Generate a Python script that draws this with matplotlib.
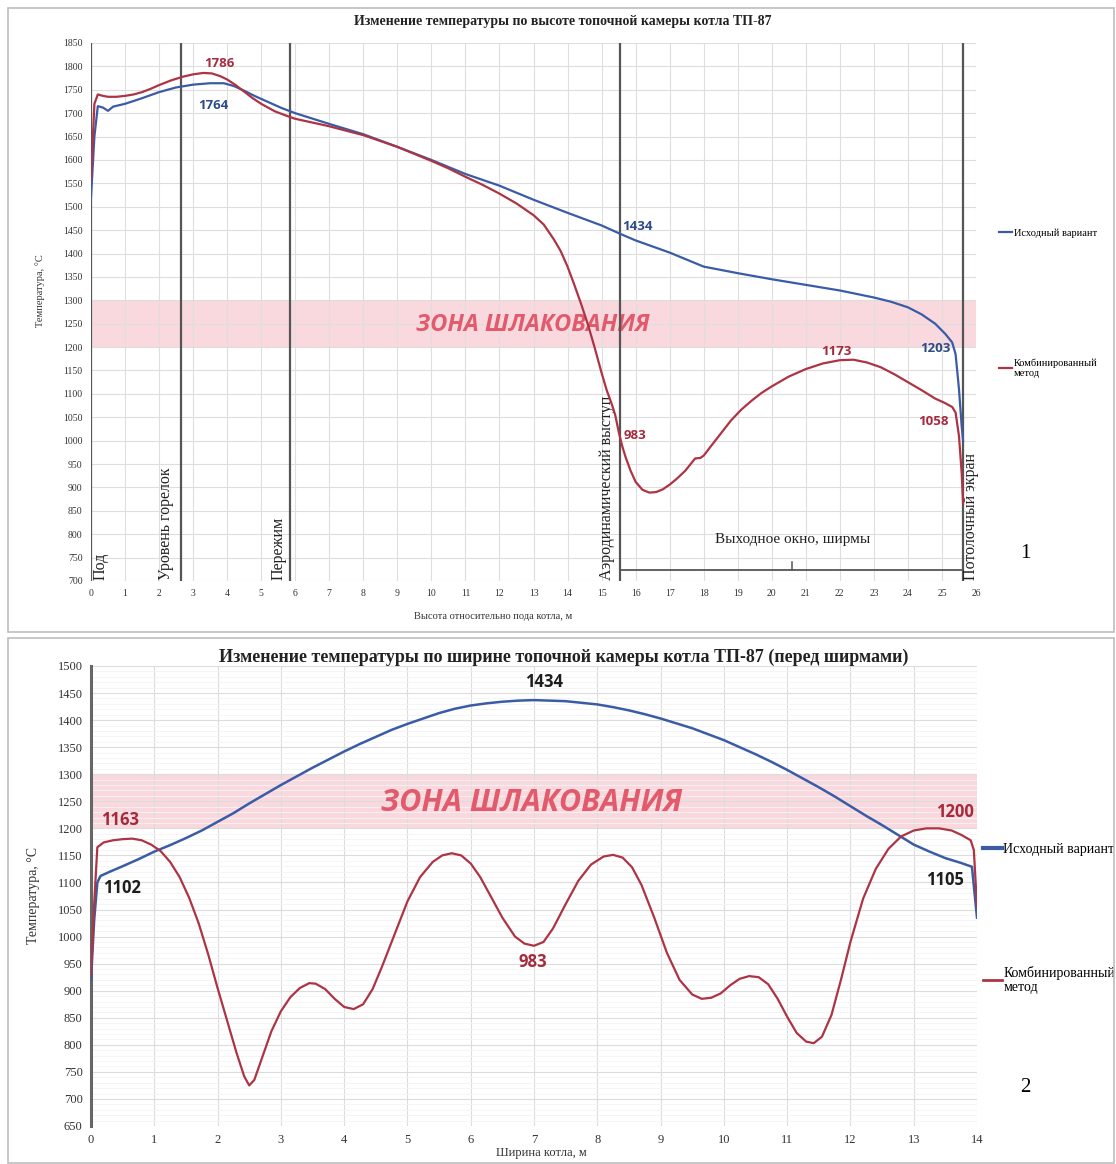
import matplotlib
matplotlib.use("Agg")
import matplotlib.pyplot as plt
from matplotlib.lines import Line2D
from matplotlib.patches import Rectangle

# ---- данные: график 1 (по высоте) ----
h_blue_x = [0, 0.1, 0.2, 0.35, 0.5, 0.65, 1, 1.5, 2, 2.5, 3, 3.5, 3.9, 4.2, 4.5, 4.8, 5.2, 5.6, 6, 7,
            8, 9, 10, 11, 12, 13, 14, 15, 15.55, 16, 17, 17.8, 18, 19, 20, 21, 22, 23, 23.5, 24, 24.4,
            24.8, 25.1, 25.3, 25.4, 25.5, 25.58, 25.62]
h_blue_y = [1520, 1650, 1715, 1712, 1705, 1714, 1720, 1732, 1745, 1755, 1761, 1764, 1764, 1758, 1748,
            1737, 1724, 1711, 1700, 1677, 1655, 1628, 1600, 1570, 1545, 1515, 1487, 1460, 1442, 1428,
            1402, 1378, 1372, 1358, 1345, 1333, 1321, 1306, 1297, 1285, 1270, 1250, 1228, 1210, 1185,
            1110, 1030, 1000]

h_red_x = [0, 0.1, 0.2, 0.35, 0.5, 0.75, 1, 1.25, 1.5, 1.75, 2, 2.35, 2.7, 3, 3.3, 3.55, 3.8, 4, 4.25,
           4.5, 4.75, 5, 5.4, 5.8, 6, 6.5, 7, 8, 9, 10, 10.5, 11, 11.5, 12, 12.5, 13, 13.3, 13.6, 13.8,
           14.0, 14.2, 14.4, 14.6, 14.8, 15.0, 15.15, 15.3, 15.4, 15.5, 15.6, 15.7, 15.85, 16.0, 16.2,
           16.4, 16.6, 16.8, 17.0, 17.2, 17.45, 17.65, 17.75, 17.9, 18.0, 18.2, 18.5, 18.8, 19.1, 19.4,
           19.7, 20.0, 20.5, 21.0, 21.5, 22.0, 22.4, 22.8, 23.2, 23.6, 24.0, 24.4, 24.8, 25.1, 25.3,
           25.4, 25.5, 25.58, 25.62]
h_red_y = [1560, 1720, 1740, 1737, 1735, 1735, 1737, 1740, 1745, 1752, 1760, 1770, 1778, 1783, 1786,
           1785, 1779, 1772, 1760, 1746, 1732, 1720, 1704, 1693, 1688, 1680, 1672, 1653, 1628, 1598,
           1582, 1564, 1547, 1528, 1507, 1482, 1462, 1430, 1405, 1372, 1333, 1292, 1248, 1198, 1145,
           1108, 1078, 1055, 1020, 990, 966, 936, 912, 895, 889, 890, 896, 906, 918, 935, 953, 962,
           963, 968, 987, 1015, 1043, 1066, 1085, 1102, 1116, 1137, 1153, 1165, 1172, 1173, 1167,
           1157, 1142, 1125, 1108, 1090, 1080, 1072, 1060, 1010, 930, 865]

h_lines_x = [0, 2.65, 5.85, 15.55, 25.62]
h_lines_txt = ["Под", "Уровень горелок", "Пережим", "Аэродинамический выступ", "Потолочный экран"]
h_lines_txt_x = [0.27, 2.2, 5.5, 15.17, 25.85]

h_blue_lbl = [(3.6, 1717, "1764"), (16.05, 1457, "1434"), (24.8, 1198, "1203")]
h_red_lbl = [(3.76, 1807, "1786"), (21.9, 1190, "1173"), (15.98, 1010, "983"), (24.74, 1040, "1058")]

# ---- данные: график 2 (по ширине) ----
w_blue_x = [0, 0.05, 0.1, 0.15, 0.3, 0.5, 0.75, 1, 1.25, 1.5, 1.75, 2, 2.25, 2.5, 2.75, 3, 3.25, 3.5,
            3.75, 4, 4.25, 4.5, 4.75, 5, 5.25, 5.5, 5.75, 6, 6.25, 6.5, 6.75, 7, 7.25, 7.5, 7.75, 8,
            8.25, 8.5, 8.75, 9, 9.25, 9.5, 9.75, 10, 10.25, 10.5, 10.75, 11, 11.25, 11.5, 11.75, 12,
            12.25, 12.5, 12.75, 13, 13.25, 13.5, 13.75, 13.92, 14]
w_blue_y = [920, 1030, 1100, 1112, 1120, 1130, 1143, 1157, 1169, 1182, 1196, 1212, 1228, 1246, 1263,
            1280, 1296, 1312, 1327, 1342, 1356, 1369, 1382, 1393, 1403, 1413, 1421, 1427, 1431, 1434,
            1436, 1437, 1436, 1435, 1432, 1429, 1424, 1418, 1411, 1403, 1394, 1385, 1374, 1363, 1350,
            1337, 1323, 1308, 1292, 1276, 1259, 1241, 1223, 1206, 1188, 1170, 1157, 1145, 1136, 1129,
            1035]

w_red_x = [0, 0.05, 0.1, 0.2, 0.35, 0.5, 0.65, 0.8, 0.95, 1.1, 1.25, 1.4, 1.55, 1.7, 1.85, 2.0, 2.15,
           2.3, 2.42, 2.5, 2.58, 2.7, 2.85, 3.0, 3.15, 3.3, 3.45, 3.55, 3.7, 3.85, 4.0, 4.15, 4.3, 4.45,
           4.6, 4.8, 5.0, 5.2, 5.4, 5.55, 5.7, 5.85, 6.0, 6.15, 6.3, 6.5, 6.7, 6.85, 7.0, 7.15, 7.3,
           7.5, 7.7, 7.9, 8.1, 8.25, 8.4, 8.55, 8.7, 8.9, 9.1, 9.3, 9.5, 9.65, 9.8, 9.95, 10.1, 10.25,
           10.4, 10.55, 10.7, 10.85, 11.0, 11.15, 11.3, 11.42, 11.55, 11.7, 11.85, 12.0, 12.2, 12.4,
           12.6, 12.8, 13.0, 13.2, 13.4, 13.6, 13.75, 13.9, 13.95, 14.0]
w_red_y = [930, 1060, 1165, 1174, 1178, 1180, 1181, 1178, 1170, 1158, 1138, 1110, 1072, 1025, 968, 905,
           845, 785, 742, 725, 735, 775, 825, 862, 888, 905, 914, 913, 903, 885, 870, 866, 875, 903,
           945, 1005, 1065, 1110, 1138, 1150, 1154, 1150, 1135, 1110, 1078, 1035, 1000, 987, 983, 990,
           1015, 1060, 1103, 1133, 1148, 1151, 1146, 1128, 1095, 1035, 970, 920, 893, 885, 887, 895,
           910, 922, 927, 925, 912, 885, 852, 822, 806, 803, 815, 855, 920, 990, 1070, 1125, 1162,
           1185, 1196, 1200, 1200, 1196, 1188, 1178, 1160, 1055]

w_blue_lbl = [(7.16, 1470, "1434"), (0.49, 1090, "1102"), (13.49, 1105, "1105")]
w_red_lbl = [(0.46, 1215, "1163"), (6.98, 953, "983"), (13.65, 1230, "1200")]

BLUE = "#3a5ca6"
RED = "#ad3444"
NAVY = "#2d4a8a"
MAROON = "#a52a3c"
ZONE_TXT = "#e25a6c"
SERIF = "Liberation Serif"
SANS = "Open Sans"

W, H = 1116, 1164
fig = plt.figure(figsize=(W / 100, H / 100), dpi=100)
fig.patch.set_facecolor("white")


def fx(px):
    return px / W


def fy(py):
    return 1 - py / H


# рамки панелей
fig.patches.append(Rectangle((fx(8), fy(632)), fx(1114) - fx(8), fy(8) - fy(632),
                             transform=fig.transFigure, fill=False, ec="#bdbdbd", lw=1.2))
fig.patches.append(Rectangle((fx(8), fy(1163)), fx(1114) - fx(8), fy(638) - fy(1163),
                             transform=fig.transFigure, fill=False, ec="#bdbdbd", lw=1.2))

# ================= график 1 =================
ax1 = fig.add_axes([fx(91), fy(581), fx(976) - fx(91), fy(43) - fy(581)])
ax1.set_xlim(0, 26)
ax1.set_ylim(700, 1850)
ax1.set_xticks(range(0, 27))
ax1.set_yticks(range(700, 1851, 50))
ax1.grid(True, color="#dedede", lw=0.8)
ax1.set_axisbelow(True)
for s in ax1.spines.values():
    s.set_visible(False)
ax1.tick_params(length=0, labelsize=7, pad=6)
for t in ax1.get_xticklabels() + ax1.get_yticklabels():
    t.set_fontfamily(SERIF)
    t.set_color("#333333")

ax1.axhspan(1200, 1300, color="#f9d3d8", alpha=0.85, lw=0, zorder=0.5)
ax1.text(12.98, 1247, "ЗОНА ШЛАКОВАНИЯ", color=ZONE_TXT, fontsize=17, fontweight="bold",
         fontstyle="italic", family=SANS, ha="center", va="center", zorder=2)

for xv in h_lines_x:
    ax1.axvline(xv, color="#555555", lw=1.6, zorder=3)
for xt, txt in zip(h_lines_txt_x, h_lines_txt):
    ax1.text(xt, 703, txt, rotation=90, ha="center", va="bottom", fontsize=11.5,
             family=SERIF, color="#222222", zorder=4)

# выходное окно
ax1.plot([h_lines_x[3], h_lines_x[4]], [723, 723], color="#555555", lw=1.3, zorder=3)
ax1.plot([h_lines_x[3], h_lines_x[3]], [723, 702], color="#555555", lw=1.3, zorder=3)
ax1.plot([h_lines_x[4], h_lines_x[4]], [723, 702], color="#555555", lw=1.3, zorder=3)
ax1.plot([20.6, 20.6], [723, 740], color="#555555", lw=1.1, zorder=3)
ax1.text(20.6, 775, "Выходное окно, ширмы", ha="center", va="bottom", fontsize=11,
         family=SERIF, color="#222222")

lb1, = ax1.plot(h_blue_x, h_blue_y, color=BLUE, lw=1.6, zorder=5, label="Исходный вариант",
                solid_joinstyle="round")
lr1, = ax1.plot(h_red_x, h_red_y, color=RED, lw=1.6, zorder=6, label="Комбинированный\nметод",
                solid_joinstyle="round")

for x, y, t in h_blue_lbl:
    ax1.text(x, y, t, color=NAVY, fontsize=9.5, fontweight="bold", family=SANS,
             ha="center", va="center", zorder=7)
for x, y, t in h_red_lbl:
    ax1.text(x, y, t, color=MAROON, fontsize=9.5, fontweight="bold", family=SANS,
             ha="center", va="center", zorder=7)

ax1.set_ylabel("Температура, °С", fontsize=7.5, family=SERIF, color="#333333")
ax1.yaxis.set_label_coords(-0.052, 0.54)
ax1.set_xlabel("Высота относительно пода котла, м", fontsize=7.5, family=SERIF, color="#333333")
ax1.xaxis.set_label_coords((493 - 91) / 885, -0.058)
fig.text(fx(563), fy(21), "Изменение температуры по высоте топочной камеры котла ТП-87",
         ha="center", va="center", fontsize=10, fontweight="bold", family=SERIF, color="#222222")

leg_a = ax1.legend(handles=[lb1], loc="center left", bbox_to_anchor=(fx(990), fy(233)),
                   bbox_transform=fig.transFigure, frameon=False, handlelength=1.2,
                   handletextpad=0.2, prop={"family": SERIF, "size": 7.5})
ax1.add_artist(leg_a)
ax1.legend(handles=[lr1], loc="center left", bbox_to_anchor=(fx(990), fy(368)),
           bbox_transform=fig.transFigure, frameon=False, handlelength=1.2,
           handletextpad=0.2, prop={"family": SERIF, "size": 7.5})
fig.text(fx(1025), fy(553), "1", fontsize=15, family=SERIF, ha="center", va="center")

# ================= график 2 =================
ax2 = fig.add_axes([fx(91), fy(1126), fx(977) - fx(91), fy(666) - fy(1126)])
ax2.set_xlim(0, 14)
ax2.set_ylim(650, 1500)
ax2.set_xticks(range(0, 15))
ax2.set_yticks(range(650, 1501, 50))
ax2.set_yticks(range(650, 1501, 10), minor=True)
ax2.grid(True, which="major", color="#dcdcdc", lw=0.8)
ax2.grid(True, which="minor", axis="y", color="#f4f4f4", lw=0.6)
ax2.set_axisbelow(True)
for k, s in ax2.spines.items():
    s.set_visible(k == "left")
ax2.spines["left"].set_color("#666666")
ax2.spines["left"].set_linewidth(2.2)
ax2.tick_params(which="both", length=0, labelsize=9, pad=6)
for t in ax2.get_xticklabels() + ax2.get_yticklabels():
    t.set_fontfamily(SERIF)
    t.set_color("#333333")

ax2.axhspan(1200, 1300, color="#f9d3d8", alpha=0.85, lw=0, zorder=0.5)
ax2.text(6.97, 1247, "ЗОНА ШЛАКОВАНИЯ", color=ZONE_TXT, fontsize=22, fontweight="bold",
         fontstyle="italic", family=SANS, ha="center", va="center", zorder=2)

lb2, = ax2.plot(w_blue_x, w_blue_y, color=BLUE, lw=1.8, zorder=5, label="Исходный вариант",
                solid_joinstyle="round")
lr2, = ax2.plot(w_red_x, w_red_y, color=RED, lw=1.6, zorder=6, label="Комбинированный\nметод",
                solid_joinstyle="round")

for x, y, t in w_blue_lbl:
    ax2.text(x, y, t, color="#1e1e1e", fontsize=12, fontweight="bold", family=SANS,
             ha="center", va="center", zorder=7)
for x, y, t in w_red_lbl:
    ax2.text(x, y, t, color=MAROON, fontsize=12, fontweight="bold", family=SANS,
             ha="center", va="center", zorder=7)

ax2.set_ylabel("Температура, °С", fontsize=10, family=SERIF, color="#333333")
ax2.yaxis.set_label_coords(-0.058, 0.5)
ax2.set_xlabel("Ширина котла, м", fontsize=9, family=SERIF, color="#333333")
ax2.xaxis.set_label_coords((541 - 91) / 886, -0.046)
fig.text(fx(564), fy(657), "Изменение температуры по ширине топочной камеры котла ТП-87 (перед ширмами)",
         ha="center", va="center", fontsize=13, fontweight="bold", family=SERIF, color="#222222")

leg_b = ax2.legend(handles=[Line2D([], [], color=BLUE, lw=3)], labels=["Исходный вариант"],
                   loc="center left", bbox_to_anchor=(fx(970), fy(849)),
                   bbox_transform=fig.transFigure, frameon=False, handlelength=1.4,
                   handletextpad=0.1, prop={"family": SERIF, "size": 10})
ax2.add_artist(leg_b)
ax2.legend(handles=[Line2D([], [], color=RED, lw=2)], labels=["Комбинированный\nметод"],
           loc="center left", bbox_to_anchor=(fx(970), fy(980)),
           bbox_transform=fig.transFigure, frameon=False, handlelength=1.4,
           handletextpad=0.1, prop={"family": SERIF, "size": 10})
fig.text(fx(1025), fy(1088), "2", fontsize=15, family=SERIF, ha="center", va="center")

fig.savefig("out.png", dpi=100)
